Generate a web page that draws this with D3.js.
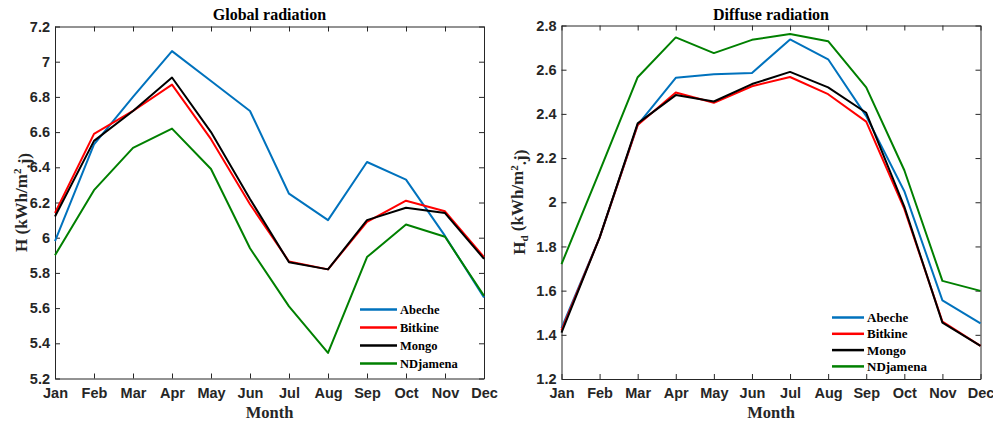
<!DOCTYPE html>
<html>
<head>
<meta charset="utf-8">
<script src="https://cdn.jsdelivr.net/npm/d3@7"></script>
<style>
  body { margin: 0; background: #fff; }
  svg { font-family: "Liberation Serif", "Times New Roman", serif; font-weight: bold; }
  .axis path, .axis line { stroke: #262626; }
  .axis text { fill: #262626; }
</style>
</head>
<body>
<svg id="chart" width="993" height="422"></svg>
<script>
const months = ['Jan', 'Feb', 'Mar', 'Apr', 'May', 'Jun', 'Jul', 'Aug', 'Sep', 'Oct', 'Nov', 'Dec'];
const stations = ['Abeche', 'Bitkine', 'Mongo', 'NDjamena'];
const colors = ['#0072BD', '#FF0000', '#000000', '#008000'];

// Global radiation H (kWh/m2.j)
const globalAbeche   = [5.98, 6.53, 6.80, 7.06, 6.89, 6.72, 6.25, 6.10, 6.43, 6.33, 6.01, 5.66];
const globalBitkine  = [6.14, 6.59, 6.72, 6.87, 6.56, 6.19, 5.865, 5.82, 6.09, 6.21, 6.15, 5.89];
const globalMongo    = [6.12, 6.55, 6.72, 6.91, 6.60, 6.22, 5.86, 5.82, 6.10, 6.17, 6.14, 5.88];
const globalNDjamena = [5.90, 6.27, 6.51, 6.62, 6.39, 5.94, 5.61, 5.345, 5.89, 6.075, 6.005, 5.67];

// Diffuse radiation Hd (kWh/m2.j)
const diffuseAbeche   = [1.43, 1.84, 2.35, 2.563, 2.579, 2.585, 2.737, 2.647, 2.39, 2.05, 1.556, 1.452];
const diffuseBitkine  = [1.42, 1.84, 2.35, 2.497, 2.45, 2.525, 2.567, 2.489, 2.365, 1.97, 1.46, 1.35];
const diffuseMongo    = [1.41, 1.84, 2.357, 2.485, 2.456, 2.535, 2.59, 2.52, 2.405, 1.98, 1.455, 1.35];
const diffuseNDjamena = [1.72, 2.14, 2.566, 2.746, 2.675, 2.735, 2.762, 2.729, 2.52, 2.145, 1.644, 1.599];

const globalTicks = [5.2, 5.4, 5.6, 5.8, 6, 6.2, 6.4, 6.6, 6.8, 7, 7.2];
const diffuseTicks = [1.2, 1.4, 1.6, 1.8, 2, 2.2, 2.4, 2.6, 2.8];

const TICK_LEN = 5;

const svg = d3.select('#chart');

function drawPanel(cfg) {
  const { left, right, top, bottom } = cfg.box;
  const w = right - left, h = bottom - top;

  const xScale = d3.scalePoint().domain(months).range([0, w]);
  const yScale = d3.scaleLinear().domain(cfg.domain).range([h, 0]);

  const g = svg.append('g').attr('transform', `translate(${left},${top})`);

  // axes, ticks pointing inward, box on
  g.append('g').attr('class', 'axis')
    .attr('transform', `translate(0,${h})`)
    .call(d3.axisBottom(xScale).tickSizeInner(-TICK_LEN).tickSizeOuter(0).tickPadding(9))
    .selectAll('text').style('font-size', '14.5px').style('font-weight', 'bold');

  g.append('g').attr('class', 'axis')
    .call(d3.axisTop(xScale).tickSizeInner(-TICK_LEN).tickSizeOuter(0).tickFormat(''));

  g.append('g').attr('class', 'axis')
    .call(d3.axisLeft(yScale).tickValues(cfg.ticks).tickSizeInner(-TICK_LEN).tickSizeOuter(0)
      .tickPadding(5).tickFormat(d3.format('~g')))
    .selectAll('text').style('font-size', '14.5px').style('font-weight', 'bold');

  g.append('g').attr('class', 'axis')
    .attr('transform', `translate(${w},0)`)
    .call(d3.axisRight(yScale).tickValues(cfg.ticks).tickSizeInner(-TICK_LEN).tickSizeOuter(0).tickFormat(''));

  g.selectAll('.domain').attr('stroke', '#262626');

  const line = d3.line()
    .x((d, i) => xScale(months[i]))
    .y(d => yScale(d));

  cfg.series.forEach((values, k) => {
    g.append('path')
      .datum(values)
      .attr('fill', 'none')
      .attr('stroke', colors[k])
      .attr('stroke-width', 2)
      .attr('stroke-linejoin', 'round')
      .attr('d', line);
  });

  // title
  svg.append('text')
    .attr('x', left + w / 2).attr('y', 19.5)
    .attr('text-anchor', 'middle')
    .style('font-size', '16px')
    .attr('fill', '#000')
    .text(cfg.title);

  // x label
  svg.append('text')
    .attr('x', left + w / 2).attr('y', bottom + 39)
    .attr('text-anchor', 'middle')
    .style('font-size', '16.5px')
    .attr('fill', '#262626')
    .text('Month');

  // y label
  const yl = svg.append('text')
    .attr('transform', `translate(${cfg.ylabelX},${top + h / 2}) rotate(-90)`)
    .attr('text-anchor', 'middle')
    .style('font-size', '17px')
    .attr('fill', '#262626');
  yl.append('tspan').text('H');
  if (cfg.sub) {
    yl.append('tspan').attr('dy', '0.3em').style('font-size', '11px').text(cfg.sub);
    yl.append('tspan').attr('dy', '-0.3em').text(' (kWh/m');
  } else {
    yl.append('tspan').text(' (kWh/m');
  }
  yl.append('tspan').attr('dy', '-0.5em').style('font-size', '11px').text('2');
  yl.append('tspan').attr('dy', '0.5em').text('.j)');

  // legend
  const lg = svg.append('g').attr('transform', `translate(${cfg.legend.x},${cfg.legend.y})`);
  stations.forEach((name, k) => {
    const row = lg.append('g').attr('transform', `translate(0,${k * cfg.legend.step})`);
    row.append('line')
      .attr('x1', 0).attr('x2', cfg.legend.lineLen)
      .attr('y1', 0).attr('y2', 0)
      .attr('stroke', colors[k]).attr('stroke-width', 2.5);
    row.append('text')
      .attr('x', cfg.legend.lineLen + 3).attr('y', 0).attr('dy', '0.35em')
      .style('font-size', cfg.legend.font + 'px')
      .attr('fill', '#000')
      .text(name);
  });
}

drawPanel({
  box: { left: 55, right: 484, top: 26.5, bottom: 378.5 },
  domain: [5.2, 7.2],
  ticks: globalTicks,
  series: [globalAbeche, globalBitkine, globalMongo, globalNDjamena],
  title: 'Global radiation',
  ylabelX: 26.5,
  sub: null,
  legend: { x: 360, y: 309.5, step: 18, lineLen: 37, font: 12.5 }
});

drawPanel({
  box: { left: 561.5, right: 980.5, top: 25.5, bottom: 379 },
  domain: [1.2, 2.8],
  ticks: diffuseTicks,
  series: [diffuseAbeche, diffuseBitkine, diffuseMongo, diffuseNDjamena],
  title: 'Diffuse radiation',
  ylabelX: 525,
  sub: 'd',
  legend: { x: 832, y: 317.5, step: 16.3, lineLen: 32, font: 13 }
});
</script>
</body>
</html>
